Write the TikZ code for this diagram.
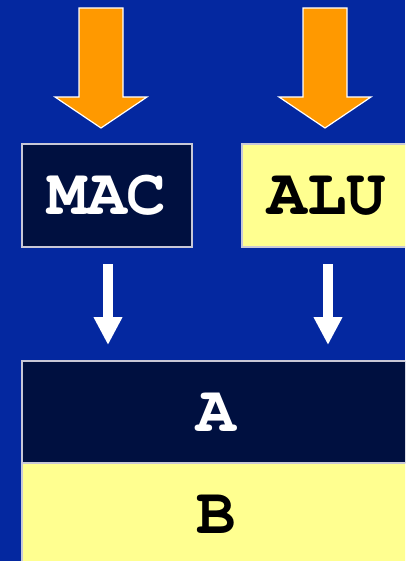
\documentclass[tikz,border=0pt]{standalone}
\usepackage{fontspec}
\setmonofont{TeX Gyre Cursor}
\usetikzlibrary{arrows.meta}
\definecolor{bg}{RGB}{4,40,160}
\definecolor{navy}{RGB}{0,16,64}
\definecolor{lyel}{RGB}{255,255,144}
\definecolor{orng}{RGB}{255,153,0}
\definecolor{edge}{RGB}{200,200,215}
\tikzset{
 box/.style={draw=edge, line width=2pt, minimum height=103pt, inner sep=0pt,
   font=\fontsize{66}{70}\selectfont\ttfamily\bfseries, anchor=north west},
 darkbox/.style={box, fill=navy, text=white},
 lightbox/.style={box, fill=lyel, text=black},
 flow/.style={white, line width=10pt, -{Triangle[length=28pt,width=27pt]}},
 fat/.style={fill=orng, draw=white, line width=1.2pt, line join=miter},
 fatarrow/.pic={\filldraw[fat] (-22,0) -- (22,0) -- (22,-89) -- (46,-89) -- (0,-120) -- (-46,-89) -- (-22,-89) -- cycle;}
}
\begin{document}
\begin{tikzpicture}[x=1pt,y=1pt]
\useasboundingbox (0,0) rectangle (405,-561);
\clip (0,0) rectangle (405,-561);
\fill[bg] (0,0) rectangle (405,-561);
\node[darkbox, minimum width=170pt] (mac) at (21,-143) {MAC};
\node[lightbox, minimum width=170pt] (alu) at (241,-143) {ALU};
\node[darkbox, minimum width=388pt, minimum height=102pt] (a) at (21,-360) {A};
\node[lightbox, minimum width=388pt, minimum height=102pt] (b) at (21,-462) {B};
\coordinate (in1) at (101,-8);
\coordinate (in2) at (325,-8);
\pic at (in1) {fatarrow};
\pic at (in2) {fatarrow};
\draw[flow, shorten <=16pt, shorten >=15pt] ([xshift=1pt]mac.south) -- ([xshift=1pt]mac.south |- a.north);
\draw[flow, shorten <=16pt, shorten >=15pt] ([xshift=1pt]alu.south) -- ([xshift=1pt]alu.south |- a.north);
\end{tikzpicture}
\end{document}
